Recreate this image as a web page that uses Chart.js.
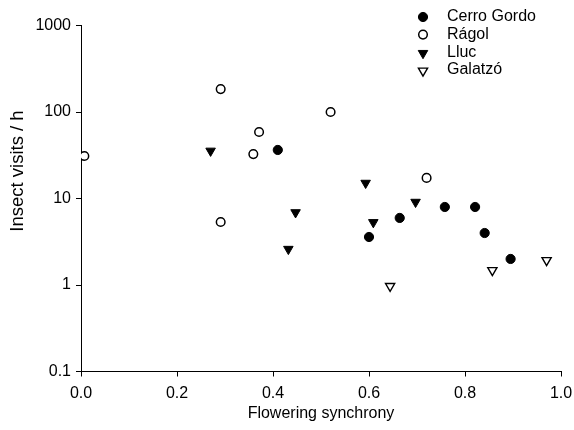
<!DOCTYPE html>
<html>
<head>
<meta charset="utf-8">
<script src="https://cdn.jsdelivr.net/npm/chart.js@4"></script>
<style>
html,body{margin:0;padding:0;background:#fff;}
#wrap{width:574px;height:430px;position:relative;}
</style>
</head>
<body>
<div id="wrap"><canvas id="c" width="574" height="430"></canvas></div>
<script>
const seriesNames = ["Cerro Gordo", "Rágol", "Lluc", "Galatzó"];
const cerroGordoX = [0.410, 0.600, 0.664, 0.758, 0.821, 0.841, 0.895];
const cerroGordoY = [36.4, 3.59, 5.96, 7.98, 7.98, 3.99, 2.0];
const ragolX = [0.007, 0.291, 0.291, 0.359, 0.371, 0.520, 0.720];
const ragolY = [31, 184, 5.35, 32.6, 58.8, 100, 17.3];
const llucX = [0.270, 0.593, 0.697, 0.447, 0.609, 0.432];
const llucY = [35.5, 15.1, 9.1, 6.9, 5.3, 2.6];
const galatzoX = [0.644, 0.857, 0.970];
const galatzoY = [0.97, 1.48, 1.93];
const yTicks = [0.1, 1, 10, 100, 1000];
const xTicks = [0.0, 0.2, 0.4, 0.6, 0.8, 1.0];
const yTitle = 'Insect visits / h';
const xTitle = 'Flowering synchrony';

function pts(xs, ys){ return xs.map((x,i)=>({x:x, y:ys[i]})); }

const FONT = "'Liberation Sans', Arial, sans-serif";

const legendPlugin = {
  id: 'customLegend',
  afterDraw(chart){
    const ctx = chart.ctx;
    ctx.save();
    const mx = 423, tx = 447, y0 = 17, dy = 17.6;
    chart.data.datasets.forEach((ds, i) => {
      const y = y0 + i*dy;
      ctx.fillStyle = ds.backgroundColor;
      ctx.strokeStyle = ds.borderColor;
      ctx.lineWidth = ds.borderWidth;
      Chart.helpers.drawPoint(ctx, {pointStyle: ds.pointStyle, rotation: ds.rotation, radius: ds.pointRadius, borderWidth: ds.borderWidth}, mx, y + (ds.pointStyle === 'triangle' ? 1 : 0));
      ctx.fillStyle = '#000';
      ctx.font = '16px ' + FONT;
      ctx.textBaseline = 'middle';
      ctx.textAlign = 'left';
      ctx.fillText(ds.label, tx, y);
    });
    // y axis title (offset from plot centre as in the reference)
    ctx.translate(18, 171);
    ctx.rotate(-Math.PI/2);
    ctx.font = '18.5px ' + FONT;
    ctx.fillStyle = '#000';
    ctx.textAlign = 'center';
    ctx.textBaseline = 'middle';
    ctx.fillText(yTitle, 0, 0);
    ctx.restore();
  }
};

new Chart(document.getElementById('c'), {
  type: 'scatter',
  data: {
    datasets: [
      {label: seriesNames[0], data: pts(cerroGordoX, cerroGordoY), pointStyle:'circle', pointRadius:4.6, backgroundColor:'#000', borderColor:'#000', borderWidth:1, rotation:0},
      {label: seriesNames[1], data: pts(ragolX, ragolY), pointStyle:'circle', pointRadius:4.3, backgroundColor:'#fff', borderColor:'#000', borderWidth:1.5, rotation:0},
      {label: seriesNames[2], data: pts(llucX, llucY), pointStyle:'triangle', rotation:180, pointRadius:5.5, backgroundColor:'#000', borderColor:'#000', borderWidth:1},
      {label: seriesNames[3], data: pts(galatzoX, galatzoY), pointStyle:'triangle', rotation:180, pointRadius:5.3, backgroundColor:'#fff', borderColor:'#000', borderWidth:1.4}
    ]
  },
  options: {
    responsive: false,
    animation: false,
    devicePixelRatio: 1,
    layout: {padding: {top: 25.5, right: 13, left: 0, bottom: 0}},
    plugins: {legend: {display:false}, tooltip: {enabled:false}},
    scales: {
      x: {
        type: 'linear', min: 0, max: 1,
        afterBuildTicks: s => { s.ticks = xTicks.map(v => ({value: v})); },
        afterFit: s => { s.height = 58.5; s.paddingRight = 0; s.paddingLeft = 0; },
        grid: {drawOnChartArea:false, drawTicks:true, tickLength:5, color:'#000', lineWidth:1},
        border: {display:true, color:'#000', width:1},
        ticks: {color:'#000', font:{family:FONT, size:16}, padding:7, maxRotation:0, callback: v => Number(v).toFixed(1)},
        title: {display:true, text:xTitle, color:'#000', font:{family:FONT, size:16}, padding:{top:4, bottom:7}}
      },
      y: {
        type: 'logarithmic', min: 0.1, max: 1000,
        afterBuildTicks: s => { s.ticks = yTicks.map(v => ({value: v})); },
        afterFit: s => { s.width = 81; s.paddingTop = 0; s.paddingBottom = 0; },
        grid: {drawOnChartArea:false, drawTicks:true, tickLength:5, color:'#000', lineWidth:1},
        border: {display:true, color:'#000', width:1},
        ticks: {color:'#000', font:{family:FONT, size:16}, padding:5, callback: v => String(v)},
        title: {display:false, text:yTitle}
      }
    }
  },
  plugins: [legendPlugin]
});
</script>
</body>
</html>
